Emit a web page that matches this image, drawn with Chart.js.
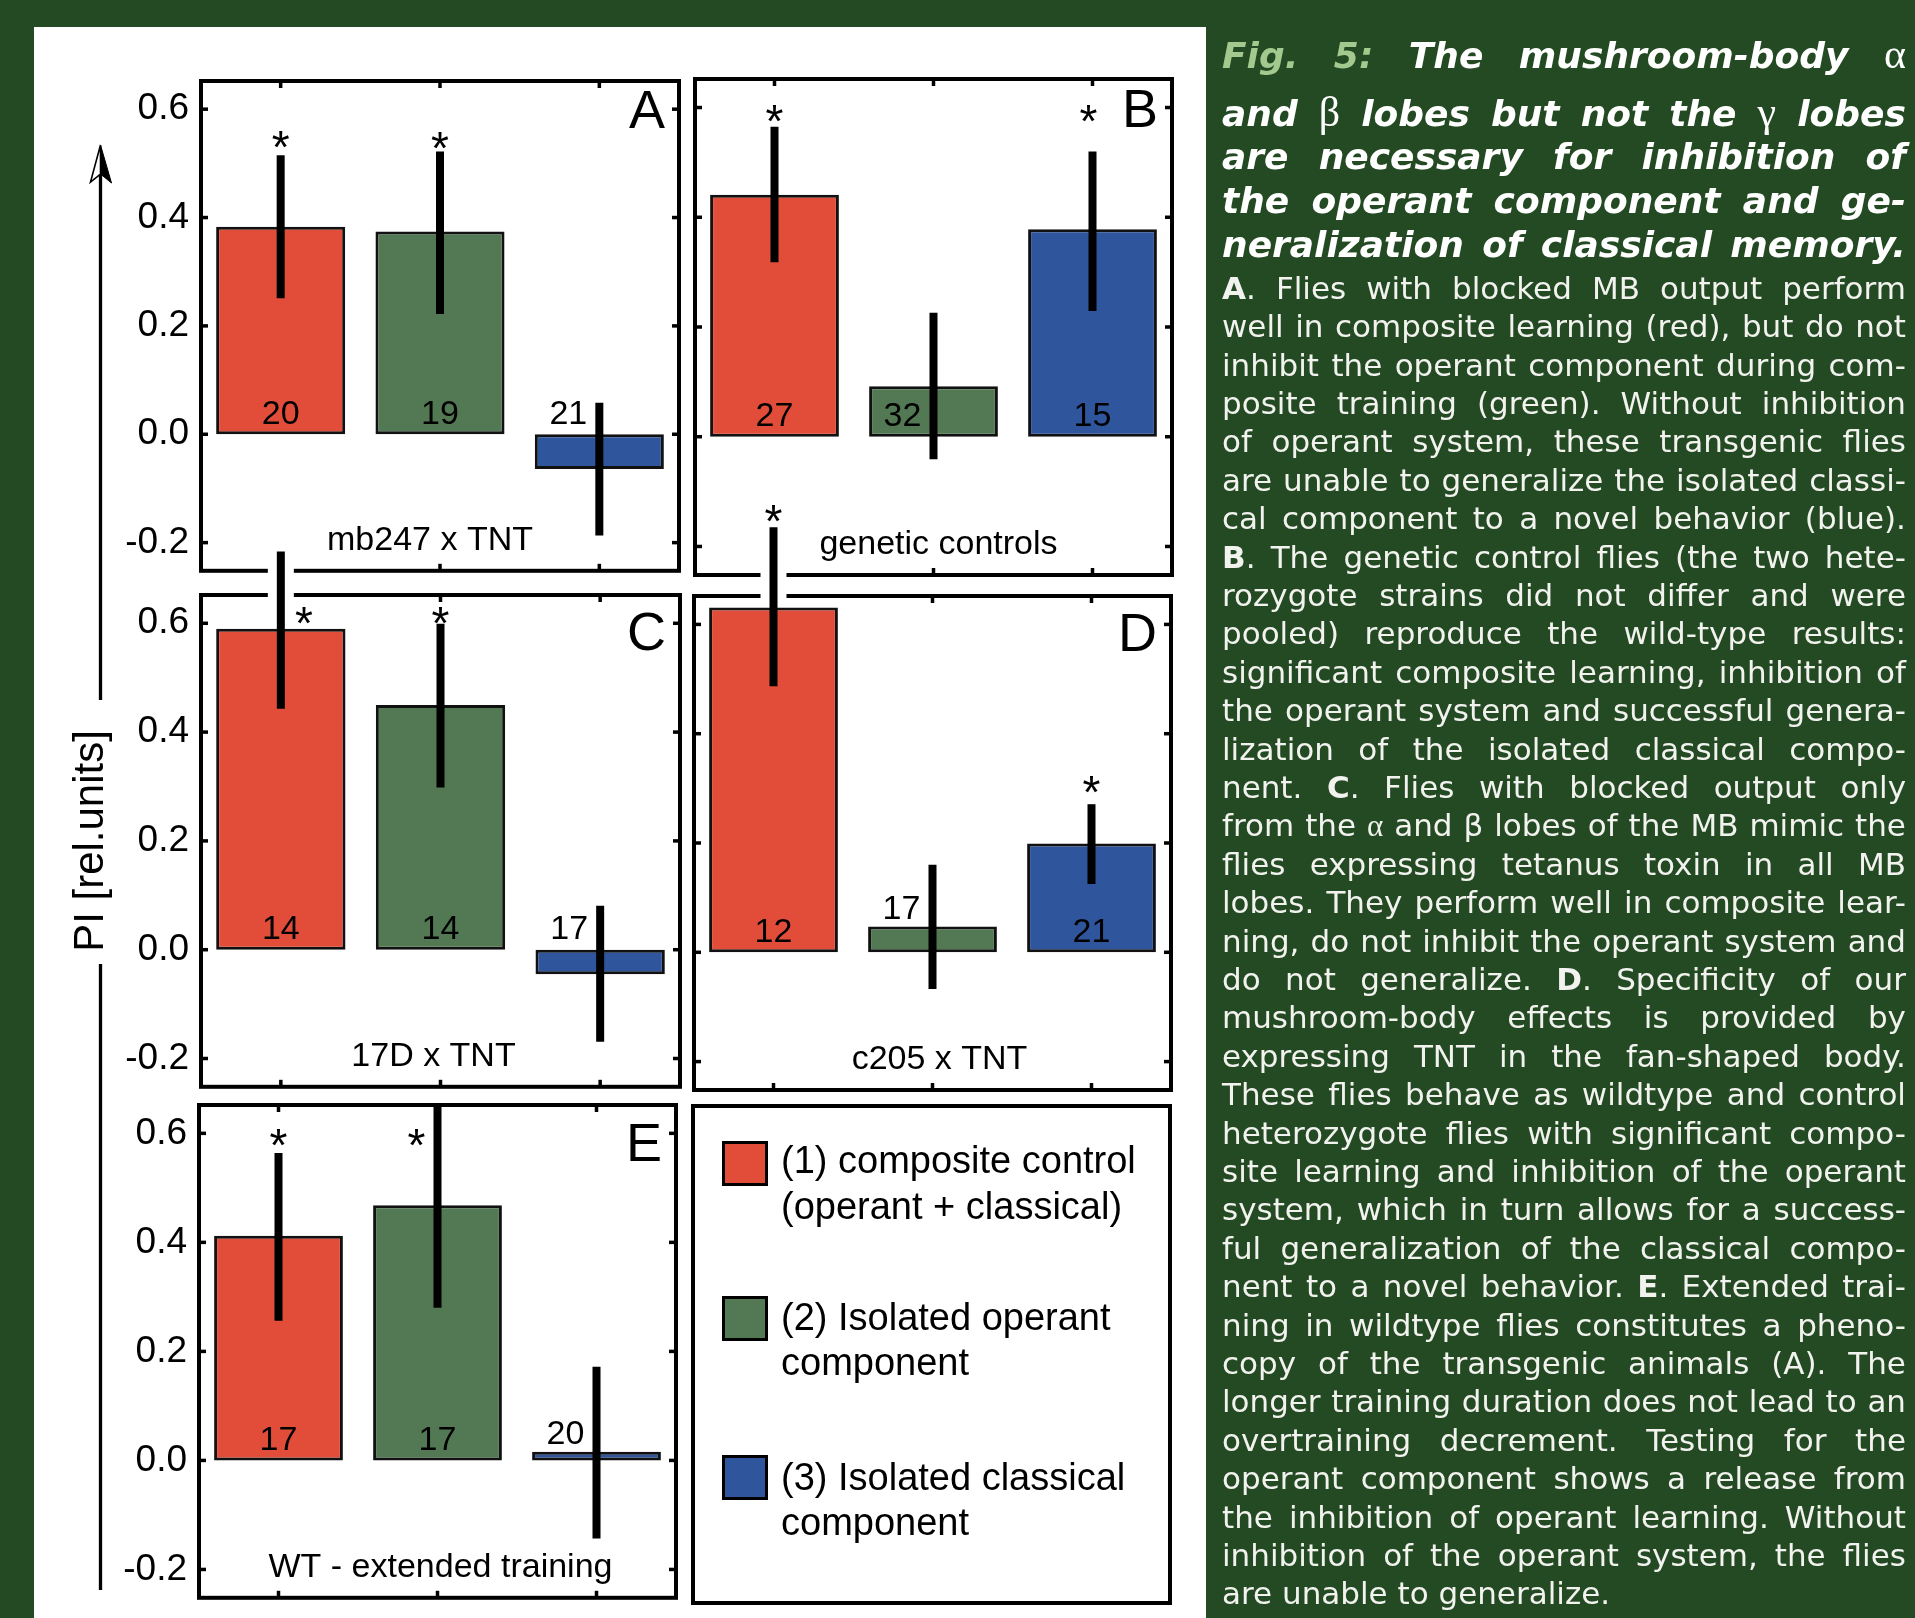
<!DOCTYPE html>
<html>
<head>
<meta charset="utf-8">
<script src="https://cdn.jsdelivr.net/npm/chart.js@4.4.1/dist/chart.umd.min.js"></script>
<style>
  html, body { margin:0; padding:0; width:1915px; height:1618px; overflow:hidden; background:#234a23; }
  #sheet { position:absolute; left:34px; top:27px; width:1172px; height:1591px; background:#fff; }
  canvas.panel { position:absolute; }
  #legendBox { position:absolute; left:691px; top:1104px; width:481px; height:501px; box-sizing:border-box; border:4px solid #000; }
  .sw { position:absolute; left:722px; width:46px; height:45px; box-sizing:border-box; border:3px solid #000; }
  .lt { position:absolute; left:781px; font-family:'Liberation Sans', Arial, sans-serif; font-size:38px; line-height:45.5px; color:#000; white-space:nowrap; }
  #caption { position:absolute; left:1222px; top:0; width:684px; height:1618px; }
  .ln { position:absolute; left:0; width:684px; white-space:nowrap; }
  .title { font-family:'DejaVu Sans', sans-serif; font-weight:bold; font-style:italic; font-size:36px; line-height:43px; color:#fff; }
  .body { font-family:'DejaVu Sans', sans-serif; font-size:31px; line-height:38.4px; color:#f2f2ee; }
  .fig { color:#a3c98e; }
  .g { font-family:'Liberation Serif', serif; font-weight:normal; font-style:normal; }
  .title .g { font-size:42px; }
  #axis { position:absolute; left:0; top:0; pointer-events:none; }
</style>
</head>
<body>
<div id="sheet"></div>
<div id="charts"></div>

<div id="legendBox"></div>
<div class="sw" style="top:1141px;background:#e24d3a"></div>
<div class="lt" style="top:1138px">(1) composite control<br>(operant + classical)</div>
<div class="sw" style="top:1296px;background:#527953"></div>
<div class="lt" style="top:1294.6px">(2) Isolated operant<br>component</div>
<div class="sw" style="top:1455px;background:#2f559c"></div>
<div class="lt" style="top:1454.8px">(3) Isolated classical<br>component</div>

<svg id="axis" width="1915" height="1618">
  <line x1="100.5" y1="1590" x2="100.5" y2="964" stroke="#000" stroke-width="3.3"/>
  <line x1="100.5" y1="700" x2="100.5" y2="172" stroke="#000" stroke-width="3.3"/>
  <path d="M100.5 145 L90.5 182 L100.5 174 Z" fill="#fff" stroke="#000" stroke-width="1.6" stroke-linejoin="miter"/>
  <path d="M100.5 145 L111.5 183 L100.5 174 Z" fill="#000" stroke="#000" stroke-width="1"/>
  <text x="103.4" y="841" transform="rotate(-90 103.4 841)" text-anchor="middle" font-family="Liberation Sans, Arial, sans-serif" font-size="42" fill="#000">PI [rel.units]</text>
</svg>

<div id="caption"></div>

<script>
// ---------------- DATA ----------------
const categories = ['(1) composite control (operant + classical)', '(2) Isolated operant component', '(3) Isolated classical component'];
const yTicks = [-0.2, 0.0, 0.2, 0.4, 0.6];

const panelLetters = ['A', 'B', 'C', 'D', 'E'];
const panelNames = ['mb247 x TNT', 'genetic controls', '17D x TNT', 'c205 x TNT', 'WT - extended training'];

const meanA = [0.383, 0.374, -0.064];
const hiA   = [0.515, 0.522, 0.058];
const loA   = [0.251, 0.222, -0.187];
const nA    = [20, 19, 21];
const sigA  = [true, true, false];

const meanB = [0.441, 0.092, 0.378];
const hiB   = [0.565, 0.226, 0.520];
const loB   = [0.318, -0.041, 0.229];
const nB    = [27, 32, 15];
const sigB  = [true, false, true];

const meanC = [0.590, 0.450, -0.045];
const hiC   = [0.732, 0.599, 0.081];
const loC   = [0.443, 0.298, -0.169];
const nC    = [14, 14, 17];
const sigC  = [true, true, false];

const meanD = [0.631, 0.047, 0.199];
const hiD   = [0.778, 0.160, 0.271];
const loD   = [0.487, -0.067, 0.125];
const nD    = [12, 17, 21];
const sigD  = [true, false, true];

const meanE = [0.412, 0.468, 0.016];
const hiE   = [0.564, 0.650, 0.172];
const loE   = [0.256, 0.280, -0.143];
const nE    = [17, 17, 20];
const sigE  = [true, true, false];

// ---------------- STYLE / LAYOUT ----------------
const barColors = ['#e24d3a', '#527953', '#2f559c'];
const FONT = "'Liberation Sans', Arial, sans-serif";
Chart.defaults.font.family = FONT;
Chart.defaults.color = '#000';

// plot frame boxes: [left, top, width, height]
const boxes = {
  A: [201, 81, 478, 494],
  B: [695, 79, 477, 496],
  C: [201, 595, 479, 496],
  D: [694, 596, 477, 494],
  E: [199, 1105, 477, 497]
};
const PADL = 140, PADT = 120, PADR = 30, PADB = 30;

const panelDecor = {
  id: 'panelDecor',
  afterDatasetsDraw(chart, args, o) {
    const ctx = chart.ctx, ca = chart.chartArea, xs = chart.scales.x, ys = chart.scales.y;
    const meta = chart.getDatasetMeta(0);
    const line = (x1, y1, x2, y2) => { ctx.beginPath(); ctx.moveTo(x1, y1); ctx.lineTo(x2, y2); ctx.stroke(); };
    ctx.save();
    ctx.lineCap = 'butt';
    // frame
    ctx.strokeStyle = '#000';
    ctx.lineWidth = 4;
    ctx.strokeRect(ca.left, ca.top, ca.right - ca.left, ca.bottom - ca.top);
    // inward tick marks
    const tl = 7;
    ctx.lineWidth = 3.5;
    yTicks.forEach(v => {
      const py = ys.getPixelForValue(v);
      line(ca.left, py, ca.left + tl, py);
      line(ca.right - tl, py, ca.right, py);
    });
    categories.forEach((c, i) => {
      const px = xs.getPixelForValue(i);
      line(px, ca.top, px, ca.top + tl);
      line(px, ca.bottom - tl, px, ca.bottom);
    });
    // error bars
    o.hi.forEach((h, i) => {
      const px = meta.data[i].x;
      const pyH = ys.getPixelForValue(h), pyL = ys.getPixelForValue(o.lo[i]);
      if (pyH < ca.top - 1) {
        ctx.strokeStyle = '#fff'; ctx.lineWidth = 26;
        line(px, pyH, px, ca.top + 3);
      }
      ctx.strokeStyle = '#000'; ctx.lineWidth = 8;
      line(px, pyH, px, pyL);
    });
    // N labels
    ctx.fillStyle = '#000';
    ctx.font = '34px ' + FONT;
    ctx.textAlign = 'center';
    ctx.textBaseline = 'middle';
    const zero = ys.getPixelForValue(0);
    o.n.forEach((nv, i) => {
      const bar = meta.data[i];
      const top = Math.min(bar.y, bar.base);
      const h = Math.abs(bar.base - bar.y);
      const ly = (bar.y < bar.base && h >= 40) ? zero - 21 : Math.min(top - 18, zero - 21);
      const pyH = ys.getPixelForValue(o.hi[i]), pyL = ys.getPixelForValue(o.lo[i]);
      let lx = bar.x;
      if (pyL > ly - 13 && pyH < ly + 13) lx -= 31;
      ctx.fillText(String(nv), lx, ly + 1);
    });
    // significance asterisks
    const SS = 46;
    ctx.font = SS + 'px ' + FONT;
    ctx.textBaseline = 'alphabetic';
    o.sig.forEach((s, i) => {
      if (!s) return;
      const py = ys.getPixelForValue(o.starY[i]);
      const px = meta.data[i].x + (o.starDx ? o.starDx[i] : 0);
      ctx.fillText('*', px, py + 0.575 * SS);
    });
    // panel letter
    ctx.font = '54px ' + FONT;
    ctx.textAlign = 'right';
    ctx.fillText(o.letter, ca.right - 14, ca.top + o.letterDy);
    // genotype name
    ctx.font = '34px ' + FONT;
    ctx.textAlign = 'center';
    ctx.fillText(o.name, (ca.left + ca.right) / 2 + o.nameDx, ca.bottom - 21);
    ctx.restore();
  }
};

function makePanel(key, idx, mean, hi, lo, n, sig, showLabels, extra) {
  const [bl, bt, bw, bh] = boxes[key];
  const cv = document.createElement('canvas');
  cv.className = 'panel';
  cv.width = bw + PADL + PADR;
  cv.height = bh + PADT + PADB;
  cv.style.left = (bl - PADL) + 'px';
  cv.style.top = (bt - PADT) + 'px';
  document.getElementById('charts').appendChild(cv);
  new Chart(cv, {
    type: 'bar',
    data: {
      labels: categories,
      datasets: [{
        data: mean,
        backgroundColor: barColors,
        borderColor: '#111',
        borderWidth: 3,
        borderSkipped: false,
        barPercentage: 0.81,
        categoryPercentage: 1.0
      }]
    },
    options: {
      responsive: false,
      animation: false,
      devicePixelRatio: 1,
      events: [],
      layout: { padding: { left: 0, top: PADT, right: PADR, bottom: PADB } },
      plugins: {
        legend: { display: false },
        tooltip: { enabled: false },
        panelDecor: Object.assign({
          hi: hi, lo: lo, n: n, sig: sig,
          letter: panelLetters[idx], name: panelNames[idx]
        }, extra)
      },
      scales: {
        x: { display: false, offset: true },
        y: {
          min: -0.252, max: 0.652,
          position: 'left',
          afterFit: s => { s.width = PADL; },
          afterBuildTicks: s => { s.ticks = yTicks.map(v => ({ value: v })); },
          ticks: {
            display: showLabels, padding: 12, autoSkip: false, color: '#000',
            font: { size: 37 },
            callback: v => Number(v).toFixed(1)
          },
          grid: { display: false, drawTicks: false },
          border: { display: false }
        }
      }
    },
    plugins: [panelDecor]
  });
}

makePanel('A', 0, meanA, hiA, loA, nA, sigA, true,
  { starY: [0.55, 0.548, 0], starDx: [0, 0, 0], letterDy: 47, nameDx: -10 });
makePanel('B', 1, meanB, hiB, loB, nB, sigB, false,
  { starY: [0.595, 0, 0.595], starDx: [0, 0, -4], letterDy: 48, nameDx: 5 });
makePanel('C', 2, meanC, hiC, loC, nC, sigC, true,
  { starY: [0.619, 0.619, 0], starDx: [23, 0, 0], letterDy: 55, nameDx: -7 });
makePanel('D', 3, meanD, hiD, loD, nD, sigD, false,
  { starY: [0.809, 0, 0.313], starDx: [0, 0, 0], letterDy: 55, nameDx: 7 });
makePanel('E', 4, meanE, hiE, loE, nE, sigE, true,
  { starY: [0.597, 0.597, 0], starDx: [0, -21, 0], letterDy: 56, nameDx: 3 });

// ---------------- CAPTION ----------------
const titleLines = [
  'Fig. 5: The mushroom-body α',
  'and β lobes but not the γ lobes',
  'are necessary for inhibition of',
  'the operant component and ge-',
  'neralization of classical memory.'
];
const titleTops = [32.5, 90.5, 135, 179, 223];

const bodyLines = [
  '[A]. Flies with blocked MB output perform',
  'well in composite learning (red), but do not',
  'inhibit the operant component during com-',
  'posite training (green). Without inhibition',
  'of operant system, these transgenic flies',
  'are unable to generalize the isolated classi-',
  'cal component to a novel behavior (blue).',
  '[B]. The genetic control flies (the two hete-',
  'rozygote strains did not differ and were',
  'pooled) reproduce the wild-type results:',
  'significant composite learning, inhibition of',
  'the operant system and successful genera-',
  'lization of the isolated classical compo-',
  'nent. [C]. Flies with blocked output only',
  'from the α and β lobes of the MB mimic the',
  'flies expressing tetanus toxin in all MB',
  'lobes. They perform well in composite lear-',
  'ning, do not inhibit the operant system and',
  'do not generalize. [D]. Specificity of our',
  'mushroom-body effects is provided by',
  'expressing TNT in the fan-shaped body.',
  'These flies behave as wildtype and control',
  'heterozygote flies with significant compo-',
  'site learning and inhibition of the operant',
  'system, which in turn allows for a success-',
  'ful generalization of the classical compo-',
  'nent to a novel behavior. [E]. Extended trai-',
  'ning in wildtype flies constitutes a pheno-',
  'copy of the transgenic animals (A). The',
  'longer training duration does not lead to an',
  'overtraining decrement. Testing for the',
  'operant component shows a release from',
  'the inhibition of operant learning. Without',
  'inhibition of the operant system, the flies',
  'are unable to generalize.'
];

function fmtWord(w, isTitle, wi, li) {
  let h = w.replace(/&/g, '&amp;').replace(/</g, '&lt;');
  h = h.replace(/\[([A-E])\]/g, '<b>$1</b>');
  if (isTitle) h = h.replace(/([αβγ])/g, '<span class="g">$1</span>');
  else h = h.replace(/([α])/g, '<span class="g">$1</span>');
  if (isTitle && li === 0 && wi < 2) h = '<span class="fig">' + h + '</span>';
  return h;
}

const cap = document.getElementById('caption');
function addLine(text, cls, top, justify, isTitle, li) {
  const d = document.createElement('div');
  d.className = 'ln ' + cls;
  d.style.top = top + 'px';
  const words = text.split(' ');
  if (justify) {
    d.style.display = 'flex';
    d.style.justifyContent = 'space-between';
    d.style.alignItems = 'baseline';
    words.forEach((w, wi) => {
      const s = document.createElement('span');
      s.innerHTML = fmtWord(w, isTitle, wi, li);
      d.appendChild(s);
    });
  } else {
    d.innerHTML = words.map((w, wi) => fmtWord(w, isTitle, wi, li)).join(' ');
  }
  cap.appendChild(d);
  // shrink a line if its natural width overflows the column
  const m = document.createElement('span');
  m.className = cls;
  m.style.position = 'absolute'; m.style.visibility = 'hidden'; m.style.whiteSpace = 'nowrap';
  m.innerHTML = words.map((w, wi) => fmtWord(w, isTitle, wi, li)).join(' ');
  cap.appendChild(m);
  const natural = m.getBoundingClientRect().width;
  const minGap = isTitle ? 8 : 6;
  if (natural > 684 - minGap) {
    const fs = parseFloat(getComputedStyle(d).fontSize);
    d.style.fontSize = (fs * (684 - minGap) / natural).toFixed(2) + 'px';
  }
  cap.removeChild(m);
}

titleLines.forEach((t, i) => addLine(t, 'title', titleTops[i], true, true, i));
bodyLines.forEach((t, i) => addLine(t, 'body', 268.8 + i * 38.4, i < bodyLines.length - 1, false, i));
</script>
</body>
</html>
